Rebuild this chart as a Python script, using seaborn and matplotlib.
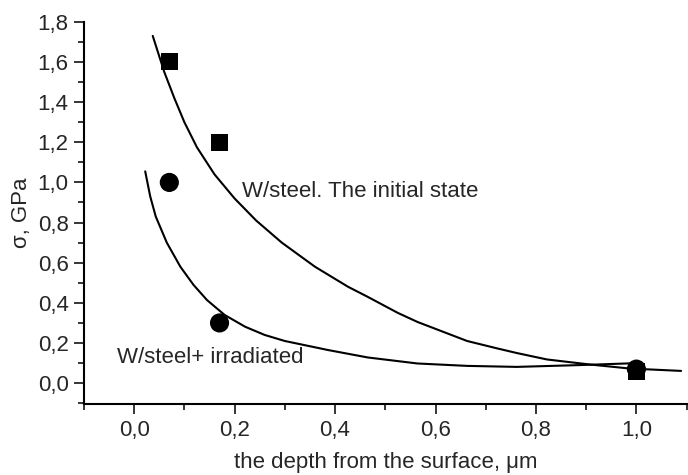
import numpy as np
import pandas as pd
import matplotlib
matplotlib.use("Agg")
import matplotlib.pyplot as plt
import seaborn as sns
from matplotlib.ticker import MultipleLocator, FuncFormatter

# measured points
depth_initial = [0.07, 0.17, 1.0]
sigma_initial = [1.6, 1.2, 0.06]
depth_irr = [0.07, 0.17, 1.0]
sigma_irr = [1.0, 0.3, 0.07]

# fitted curves
fit_initial_x = [0.037, 0.060, 0.080, 0.100, 0.125, 0.160, 0.200, 0.243, 0.294,
                 0.360, 0.426, 0.465, 0.525, 0.564, 0.663, 0.723, 0.762, 0.822,
                 0.907, 0.986, 1.089]
fit_initial_y = [1.73, 1.55, 1.42, 1.30, 1.175, 1.04, 0.92, 0.81, 0.70,
                 0.58, 0.48, 0.43, 0.35, 0.305, 0.21, 0.173, 0.150, 0.118,
                 0.093, 0.073, 0.061]
fit_irr_x = [0.022, 0.032, 0.043, 0.065, 0.092, 0.118, 0.145, 0.180, 0.221,
             0.260, 0.300, 0.386, 0.465, 0.564, 0.663, 0.762, 0.887, 0.980, 1.005]
fit_irr_y = [1.055, 0.93, 0.83, 0.70, 0.58, 0.49, 0.414, 0.34, 0.281,
             0.24, 0.21, 0.165, 0.128, 0.098, 0.086, 0.081, 0.090, 0.098, 0.10]

sns.set_style("ticks")
plt.rcParams['font.family'] = ['Liberation Sans', 'DejaVu Sans']
plt.rcParams['font.size'] = 16

fig = plt.figure(figsize=(6.88, 4.75), dpi=100)
ax = fig.add_axes([0.122, 0.149, 0.876, 0.805])

sns.lineplot(x=fit_initial_x, y=fit_initial_y, color='black', lw=1.5,
             estimator=None, sort=False, ax=ax)
sns.lineplot(x=fit_irr_x, y=fit_irr_y, color='black', lw=1.5,
             estimator=None, sort=False, ax=ax)
sns.scatterplot(x=depth_initial, y=sigma_initial, marker='s', s=150,
                color='black', edgecolor='none', ax=ax, zorder=3)
sns.scatterplot(x=depth_irr, y=sigma_irr, marker='o', s=190,
                color='black', edgecolor='none', ax=ax, zorder=3)

ax.text(0.214, 0.957, 'W/steel. The initial state', va='center', ha='left')
ax.text(-0.034, 0.13, 'W/steel+ irradiated', va='center', ha='left')

ax.set_xlim(-0.1, 1.1)
ax.set_ylim(-0.105, 1.8)
ax.xaxis.set_major_locator(MultipleLocator(0.2))
ax.xaxis.set_minor_locator(MultipleLocator(0.1))
ax.yaxis.set_major_locator(MultipleLocator(0.2))
ax.yaxis.set_minor_locator(MultipleLocator(0.1))
comma = FuncFormatter(lambda v, p: f'{v:.1f}'.replace('.', ',').replace('-0,0', '0,0'))
ax.xaxis.set_major_formatter(comma)
ax.yaxis.set_major_formatter(comma)
ax.tick_params(which='major', length=7, width=1.3, direction='out', pad=4)
ax.tick_params(which='minor', length=4, width=1.3, direction='out')

sns.despine(ax=ax)
for s in ['left', 'bottom']:
    ax.spines[s].set_linewidth(1.5)
    ax.spines[s].set_color('black')

ax.set_xlabel('the depth from the surface, μm', labelpad=8)
ax.set_ylabel('σ, GPa', labelpad=4)

fig.savefig('out.png', dpi=100)
